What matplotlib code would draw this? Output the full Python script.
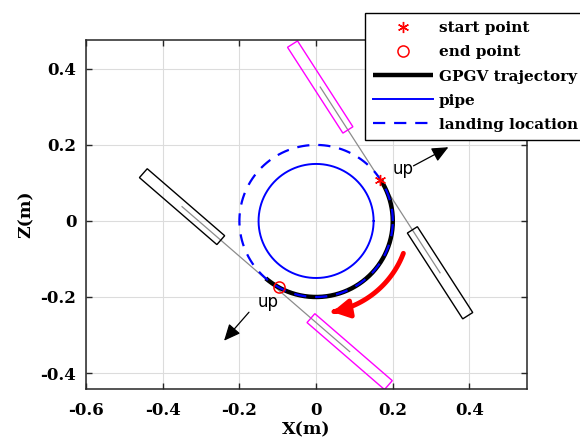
import numpy as np
import matplotlib
matplotlib.use('Agg')
import matplotlib.pyplot as plt
from matplotlib.patches import Polygon, FancyArrowPatch
from matplotlib.path import Path

# ---------------- data ----------------
x_ticks = [-0.6, -0.4, -0.2, 0, 0.2, 0.4]
x_tick_labels = ['-0.6', '-0.4', '-0.2', '0', '0.2', '0.4']
y_ticks = [-0.4, -0.2, 0, 0.2, 0.4]
y_tick_labels = ['-0.4', '-0.2', '0', '0.2', '0.4']
x_limits = [-0.6, 0.55]
y_limits = [-0.442, 0.476]

pipe_radius = 0.15
landing_radius = 0.2
traj_radius = 0.2
traj_angles_deg = [33, -131]          # start -> end (clockwise)
start_point = [0.167, 0.108]
end_point = [-0.098, -0.173]

robot_centers = [[0.167, 0.108], [-0.131, -0.153]]
robot_headings_deg = [-57.4, -41.1]
robot_half_span = 0.29
body_length = 0.268
body_width = 0.031
body_colors = [['magenta', 'black'], ['black', 'magenta']]

up_arrow_tails = [[0.254, 0.145], [-0.175, -0.240]]
up_arrow_tips = [[0.345, 0.194], [-0.240, -0.315]]
up_text_pos = [[0.226, 0.136], [-0.124, -0.212]]
up_text = 'up'

motion_arc_radius = 0.243
motion_arc_deg = [-20.5, -80]

legend_labels = ['start point', 'end point', 'GPGV trajectory', 'pipe', 'landing location']

# ---------------- figure ----------------
serif = 'DejaVu Serif'
plt.rcParams['axes.unicode_minus'] = False
fig = plt.figure(figsize=(5.8, 4.48), dpi=100)
ax = fig.add_axes([86/580, 59/448, 441/580, 349/448])
ax.set_xlim(x_limits)
ax.set_ylim(y_limits)
ax.set_axisbelow(True)
ax.grid(True, color='#dcdcdc', lw=0.8)

# robots
for c, hd, cols in zip(robot_centers, robot_headings_deg, body_colors):
    c = np.array(c)
    u = np.array([np.cos(np.radians(hd)), np.sin(np.radians(hd))])
    n = np.array([-u[1], u[0]])
    p1 = c - robot_half_span * u
    p2 = c + robot_half_span * u
    ax.plot([p1[0], p2[0]], [p1[1], p2[1]], color='#8c8c8c', lw=0.9, zorder=2)
    for bc, col in zip([p1, p2], cols):
        pts = [bc - body_length/2*u - body_width/2*n,
               bc + body_length/2*u - body_width/2*n,
               bc + body_length/2*u + body_width/2*n,
               bc - body_length/2*u + body_width/2*n]
        ax.add_patch(Polygon(pts, closed=True, fill=False, edgecolor=col, lw=1.0, zorder=2))

th = np.linspace(0, 2*np.pi, 400)
ta = np.radians(np.linspace(traj_angles_deg[0], traj_angles_deg[1], 300))
h_traj, = ax.plot(traj_radius*np.cos(ta), traj_radius*np.sin(ta), color='black', lw=3.2,
                  solid_capstyle='butt', zorder=3)
h_pipe, = ax.plot(pipe_radius*np.cos(th), pipe_radius*np.sin(th), color='blue', lw=1.4, zorder=3)
h_land, = ax.plot(landing_radius*np.cos(th), landing_radius*np.sin(th), color='blue', lw=1.6,
                  dashes=(5.5, 4.0), zorder=4)
h_start, = ax.plot([start_point[0]], [start_point[1]], linestyle='none', marker=(6, 2, 0),
                   markersize=8, markeredgecolor='red', markeredgewidth=1.0, zorder=6)
h_end, = ax.plot([end_point[0]], [end_point[1]], linestyle='none', marker='o',
                 markersize=8, markerfacecolor='none', markeredgecolor='red',
                 markeredgewidth=1.1, zorder=6)

# red motion arrow
ma = np.radians(np.linspace(motion_arc_deg[0], motion_arc_deg[1], 60))
arc = np.column_stack([motion_arc_radius*np.cos(ma), motion_arc_radius*np.sin(ma)])
red_arrow = FancyArrowPatch(path=Path(arc), arrowstyle='-|>,head_length=1.0,head_width=0.55',
                            mutation_scale=10, color='red', lw=3.5, shrinkA=0, shrinkB=0,
                            zorder=5)
ax.add_patch(red_arrow)

# up arrows
for tl, tp, tx in zip(up_arrow_tails, up_arrow_tips, up_text_pos):
    ax.annotate('', xy=tp, xytext=tl,
                arrowprops=dict(arrowstyle='-|>,head_length=1.0,head_width=0.45',
                                mutation_scale=10, color='black', lw=0.9,
                                shrinkA=0, shrinkB=0), zorder=5)
    ax.text(tx[0], tx[1], up_text, fontsize=12, family='DejaVu Sans', ha='center',
            va='center', zorder=5)

# ticks / labels
ax.set_xticks(x_ticks)
ax.set_xticklabels(x_tick_labels)
ax.set_yticks(y_ticks)
ax.set_yticklabels(y_tick_labels)
ax.tick_params(axis='both', direction='in', length=4, width=1.0, top=True, right=True,
               labelsize=12, color='#262626')
ax.tick_params(axis='x', pad=9)
ax.tick_params(axis='y', pad=7)
for lab in ax.get_xticklabels() + ax.get_yticklabels():
    lab.set_family(serif)
    lab.set_fontweight('bold')
for sp in ax.spines.values():
    sp.set_color('#262626')
    sp.set_linewidth(1.1)
ax.set_xlabel('X(m)', family=serif, fontweight='bold', fontsize=12.5, labelpad=2)
ax.set_ylabel('Z(m)', family=serif, fontweight='bold', fontsize=12.5, labelpad=4)

leg = ax.legend([h_start, h_end, h_traj, h_pipe, h_land], legend_labels,
                loc='upper left', bbox_to_anchor=(365/580, 1 - 13/448),
                bbox_transform=fig.transFigure, borderaxespad=0, frameon=True,
                fancybox=False, edgecolor='black', framealpha=1,
                prop=dict(family=serif, weight='bold', size=11),
                handlelength=3.9, handletextpad=0.4, labelspacing=0.66, borderpad=0.55,
                numpoints=1)
leg.get_frame().set_linewidth(1.0)
leg.set_zorder(10)

fig.savefig('out.png', dpi=100)
